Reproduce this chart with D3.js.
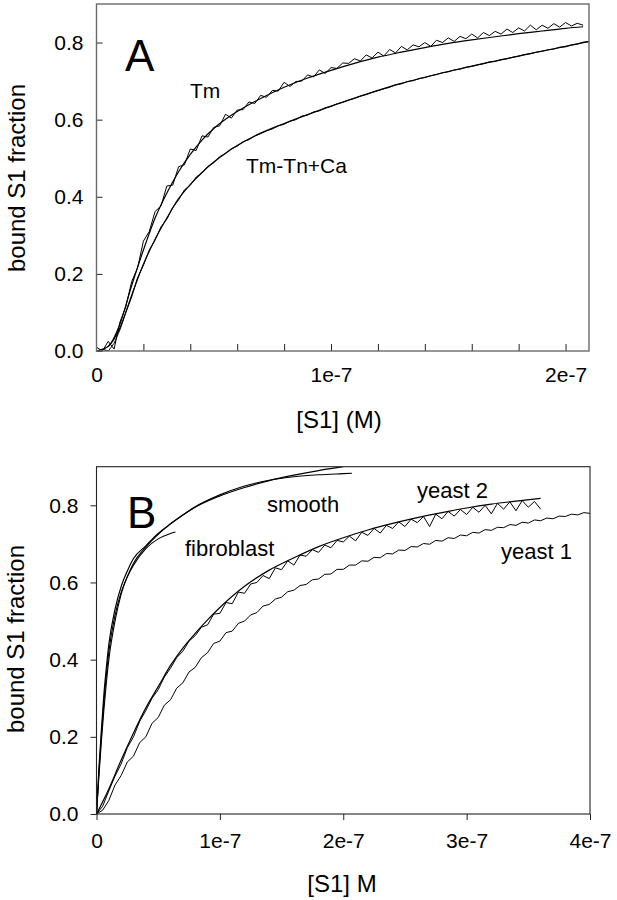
<!DOCTYPE html>
<html><head><meta charset="utf-8">
<script src="https://cdnjs.cloudflare.com/ajax/libs/d3/7.8.5/d3.min.js"></script>
<style>body{margin:0;background:#fff}svg{display:block}text{font-family:"Liberation Sans",Arial,sans-serif;fill:#000}</style>
</head><body>
<script>
// ---------- Panel A data (x in units of 1e-8 M) ----------
const gridA = [0,0.25,0.5,0.75,1,1.25,1.5,1.75,2,2.25,2.5,2.75,3,3.25,3.5,3.75,4,4.25,4.5,4.75,5,5.25,5.5,5.75,6,6.25,6.5,6.75,7,7.25,7.5,7.75,8,8.25,8.5,8.75,9,9.25,9.5,9.75,10,10.25,10.5,10.75,11,11.25,11.5,11.75,12,12.25,12.5,12.75,13,13.25,13.5,13.75,14,14.25,14.5,14.75,15,15.25,15.5,15.75,16,16.25,16.5,16.75,17,17.25,17.5,17.75,18,18.25,18.5,18.75,19,19.25,19.5,19.75,20,20.25,20.5,20.75,21];
const tmData = [0.01,0.0,0.025,0.005,0.075,0.115,0.18,0.215,0.285,0.31,
0.362,0.376,0.428,0.43,0.478,0.483,0.524,0.52,0.558,0.555,
0.58,0.584,0.614,0.604,0.625,0.626,0.646,0.642,0.663,0.658,
0.676,0.674,0.697,0.686,0.699,0.7,0.716,0.711,0.729,0.72,
0.735,0.733,0.747,0.746,0.758,0.752,0.768,0.76,0.775,0.765,
0.782,0.773,0.79,0.781,0.794,0.789,0.8,0.79,0.806,0.8,
0.812,0.803,0.816,0.81,0.822,0.812,0.826,0.818,0.829,0.822,
0.835,0.826,0.838,0.83,0.845,0.833,0.845,0.837,0.849,0.84,
0.852,0.843,0.85,0.845];
const tmTnData = [0.0,0.005,0.0,0.02,0.055,0.1,0.14,0.19,0.222,0.262,
0.288,0.322,0.342,0.372,0.392,0.418,0.43,0.451,0.462,0.479,
0.488,0.504,0.512,0.525,0.531,0.543,0.548,0.558,0.564,0.571,
0.576,0.584,0.588,0.596,0.6,0.609,0.612,0.62,0.623,0.631,
0.634,0.641,0.645,0.651,0.655,0.661,0.665,0.671,0.675,0.68,
0.684,0.691,0.693,0.699,0.701,0.707,0.709,0.714,0.717,0.722,
0.724,0.729,0.731,0.736,0.738,0.742,0.745,0.75,0.751,0.756,
0.758,0.762,0.765,0.769,0.771,0.775,0.777,0.781,0.783,0.788,
0.789,0.794,0.796,0.801,0.802];
const tmFitX = [0,0.5,1,1.5,2,2.5,3,3.5,4,4.5,5,5.5,6,7,8,9,10,11,12,13,14,15,16,17,18,19,20,20.75];
const tmFitY = [0,0.012,0.07,0.17,0.262,0.345,0.41,0.465,0.51,0.547,0.577,0.601,0.621,0.655,0.684,0.708,0.728,0.746,0.762,0.775,0.787,0.798,0.807,0.815,0.823,0.83,0.837,0.841];
const tmTnFitX = [0,0.5,1,1.5,2,2.5,3,3.5,4,4.5,5,5.5,6,7,8,9,10,11,12,13,14,15,16,17,18,19,20,21];
const tmTnFitY = [0,0.012,0.06,0.145,0.225,0.29,0.345,0.395,0.432,0.463,0.49,0.513,0.533,0.565,0.59,0.613,0.635,0.656,0.676,0.694,0.71,0.725,0.739,0.752,0.765,0.778,0.79,0.803];

// ---------- Panel B data (x in units of 1e-7 M) ----------
const gridB = [0,0.05,0.1,0.15,0.2,0.25,0.3,0.35,0.4,0.45,0.5,0.55,0.6,0.65,0.7,0.75,0.8,0.85,0.9,0.95,1,1.05,1.1,1.15,1.2,1.25,1.3,1.35,1.4,1.45,1.5,1.55,1.6,1.65,1.7,1.75,1.8,1.85,1.9,1.95,2,2.05,2.1,2.15,2.2,2.25,2.3,2.35,2.4,2.45,2.5,2.55,2.6,2.65,2.7,2.75,2.8,2.85,2.9,2.95,3,3.05,3.1,3.15,3.2,3.25,3.3,3.35,3.4,3.45,3.5,3.55,3.6,3.65,3.7,3.75,3.8,3.85,3.9,3.95,4];
const yeast2Data = [0.0,0.02,0.06,0.098,0.13,0.172,0.2,0.24,0.268,0.3,
0.322,0.355,0.378,0.405,0.422,0.448,0.462,0.484,0.49,0.518,
0.52,0.548,0.545,0.575,0.572,0.596,0.6,0.618,0.61,0.638,
0.633,0.656,0.645,0.671,0.668,0.685,0.678,0.697,0.69,0.709,
0.705,0.72,0.708,0.73,0.722,0.74,0.728,0.748,0.74,0.757,
0.745,0.764,0.755,0.771,0.745,0.777,0.765,0.784,0.772,0.789,
0.776,0.795,0.782,0.8,0.778,0.805,0.79,0.809,0.786,0.812,
0.795,0.81,0.79];
const yeast2FitX = [0,0.1,0.2,0.3,0.4,0.5,0.6,0.7,0.8,0.9,1.0,1.2,1.4,1.6,1.8,2.0,2.2,2.4,2.6,2.8,3.0,3.2,3.4,3.6];
const yeast2FitY = [0,0.065,0.14,0.21,0.275,0.33,0.385,0.43,0.468,0.503,0.535,0.59,0.632,0.664,0.693,0.716,0.736,0.753,0.768,0.781,0.793,0.803,0.811,0.818];
const yeast1Data = [0.0,0.01,0.035,0.075,0.1,0.135,0.15,0.185,0.2,0.235,
0.25,0.282,0.296,0.326,0.34,0.368,0.38,0.405,0.418,0.442,
0.448,0.47,0.474,0.494,0.5,0.516,0.522,0.539,0.543,0.557,
0.562,0.576,0.58,0.592,0.595,0.607,0.609,0.621,0.622,0.634,
0.634,0.645,0.645,0.656,0.655,0.665,0.664,0.675,0.674,0.684,
0.683,0.693,0.692,0.701,0.699,0.709,0.707,0.716,0.714,0.723,
0.721,0.73,0.728,0.737,0.735,0.743,0.742,0.75,0.748,0.756,
0.754,0.762,0.76,0.767,0.765,0.772,0.771,0.777,0.775,0.781,
0.779];
const smoothFitX = [0,0.02,0.04,0.06,0.08,0.1,0.15,0.2,0.25,0.3,0.4,0.5,0.6,0.7,0.8,1.0,1.2,1.4,1.6,1.8,2.0];
const smoothFitY = [0,0.12,0.22,0.31,0.38,0.44,0.53,0.59,0.63,0.662,0.695,0.727,0.752,0.775,0.795,0.824,0.846,0.864,0.878,0.89,0.9];
const smoothDataX = [0,0.02,0.04,0.06,0.08,0.1,0.15,0.2,0.25,0.3,0.4,0.5,0.6,0.7,0.8,1.0,1.2,1.4,1.6,1.8,2.0,2.07];
const smoothDataY = [0,0.1,0.19,0.27,0.34,0.4,0.5,0.57,0.615,0.65,0.692,0.725,0.752,0.775,0.796,0.827,0.85,0.865,0.874,0.879,0.882,0.883];
const fibroX = [0,0.02,0.04,0.06,0.08,0.1,0.15,0.2,0.25,0.3,0.4,0.5,0.6,0.64];
const fibroY = [0,0.11,0.205,0.29,0.36,0.42,0.515,0.575,0.615,0.645,0.688,0.713,0.727,0.731];

// ---------- ticks & labels ----------
const yTicks = [0,0.2,0.4,0.6,0.8];
const yTickLabels = ["0.0","0.2","0.4","0.6","0.8"];
const xTicksA = [0,1e-7,2e-7];
const xTickLabelsA = ["0","1e-7","2e-7"];
const xMinorA = [2e-8,4e-8,6e-8,8e-8,1e-7,1.2e-7,1.4e-7,1.6e-7,1.8e-7,2e-7];
const xTicksB = [0,1e-7,2e-7,3e-7,4e-7];
const xTickLabelsB = ["0","1e-7","2e-7","3e-7","4e-7"];

const W = 617, H = 900;
const svg = d3.select("body").append("svg").attr("width", W).attr("height", H);
svg.append("rect").attr("width", W).attr("height", H).attr("fill", "#fff");

// ================= Panel A =================
const xA = d3.scaleLinear().domain([0, 2.1e-7]).range([96.5, 589]);
const yA = d3.scaleLinear().domain([0, 0.9]).range([351, 4]);
const gA = svg.append("g");
gA.append("clipPath").attr("id", "clipA").append("rect")
  .attr("x", 96.5).attr("y", 4).attr("width", 589 - 96.5).attr("height", 347);

const plotA = gA.append("g").attr("clip-path", "url(#clipA)");
const addA = (xs, ys, curve, sw) => plotA.append("path")
  .attr("d", d3.line().curve(curve).x((d,i)=>xA(xs[i]*1e-8)).y(d=>yA(d))(ys))
  .attr("fill","none").attr("stroke","#000").attr("stroke-width",sw);
addA(gridA, tmData, d3.curveLinear, 1);
addA(gridA, tmTnData, d3.curveLinear, 1);
addA(tmFitX, tmFitY, d3.curveMonotoneX, 1.2);
addA(tmTnFitX, tmTnFitY, d3.curveMonotoneX, 1.2);

// axes A
const axA_y = gA.append("g").attr("transform", "translate(96.5,0)")
  .call(d3.axisLeft(yA).tickValues(yTicks).tickSize(-6).tickPadding(13).tickFormat((d,i)=>yTickLabels[i]));
const axA_xm = gA.append("g").attr("transform", "translate(0,351)")
  .call(d3.axisBottom(xA).tickValues(xMinorA).tickSize(-7).tickFormat(""));
const axA_x = gA.append("g").attr("transform", "translate(0,351)")
  .call(d3.axisBottom(xA).tickValues(xTicksA).tickSize(0).tickPadding(16).tickFormat((d,i)=>xTickLabelsA[i]));
[axA_y, axA_xm, axA_x].forEach(a => { a.select(".domain").remove(); a.selectAll("line").attr("stroke","#222"); a.selectAll("text").style("font-size","21px").attr("fill","#000"); });
gA.append("rect").attr("x", 96.5).attr("y", 4).attr("width", 589 - 96.5).attr("height", 347)
  .attr("fill","none").attr("stroke","#6a6a6a").attr("stroke-width",1.4);

gA.append("text").attr("x", 339).attr("y", 428).attr("text-anchor","middle").style("font-size","24px").text("[S1] (M)");
gA.append("text").attr("transform","translate(25,178) rotate(-90)").attr("text-anchor","middle").style("font-size","24px").text("bound S1 fraction");
gA.append("text").attr("x", 125).attr("y", 71).style("font-size","44px").text("A");
gA.append("text").attr("x", 190).attr("y", 98).style("font-size","21px").text("Tm");
gA.append("text").attr("x", 246).attr("y", 173).style("font-size","21px").text("Tm-Tn+Ca");

// ================= Panel B =================
const xB = d3.scaleLinear().domain([0, 4e-7]).range([96.5, 590]);
const yB = d3.scaleLinear().domain([0, 0.9]).range([814, 466.7]);
const gB = svg.append("g");
gB.append("clipPath").attr("id", "clipB").append("rect")
  .attr("x", 96.5).attr("y", 466.7).attr("width", 590 - 96.5).attr("height", 814 - 466.7);
const plotB = gB.append("g").attr("clip-path", "url(#clipB)");
const addB = (xs, ys, curve, sw) => plotB.append("path")
  .attr("d", d3.line().curve(curve).x((d,i)=>xB(xs[i]*1e-7)).y(d=>yB(d))(ys))
  .attr("fill","none").attr("stroke","#000").attr("stroke-width",sw);
addB(gridB, yeast1Data, d3.curveLinear, 1);
addB(gridB, yeast2Data, d3.curveLinear, 1);
addB(yeast2FitX, yeast2FitY, d3.curveMonotoneX, 1.2);
addB(smoothFitX, smoothFitY, d3.curveMonotoneX, 1.2);
addB(smoothDataX, smoothDataY, d3.curveMonotoneX, 1.1);
addB(fibroX, fibroY, d3.curveMonotoneX, 1.1);

const axB_y = gB.append("g").attr("transform", "translate(96.5,0)")
  .call(d3.axisLeft(yB).tickValues(yTicks).tickSize(6).tickPadding(12).tickFormat((d,i)=>yTickLabels[i]));
const axB_x = gB.append("g").attr("transform", "translate(0,814)")
  .call(d3.axisBottom(xB).tickValues(xTicksB).tickSize(6).tickPadding(13).tickFormat((d,i)=>xTickLabelsB[i]));
[axB_y, axB_x].forEach(a => { a.select(".domain").remove(); a.selectAll("line").attr("stroke","#222"); a.selectAll("text").style("font-size","21px").attr("fill","#000"); });
gB.append("rect").attr("x", 96.5).attr("y", 466.7).attr("width", 590 - 96.5).attr("height", 814 - 466.7)
  .attr("fill","none").attr("stroke","#222").attr("stroke-width",1.1);

gB.append("text").attr("x", 342).attr("y", 892).attr("text-anchor","middle").style("font-size","24px").text("[S1] M");
gB.append("text").attr("transform","translate(24,639) rotate(-90)").attr("text-anchor","middle").style("font-size","24px").text("bound S1 fraction");
gB.append("text").attr("x", 127).attr("y", 528).style("font-size","44px").text("B");
gB.append("text").attr("x", 267).attr("y", 512).style("font-size","22px").text("smooth");
gB.append("text").attr("x", 185).attr("y", 556).style("font-size","22px").text("fibroblast");
gB.append("text").attr("x", 417).attr("y", 498).style("font-size","22px").text("yeast 2");
gB.append("text").attr("x", 501).attr("y", 559).style("font-size","22px").text("yeast 1");
</script>
</body></html>
